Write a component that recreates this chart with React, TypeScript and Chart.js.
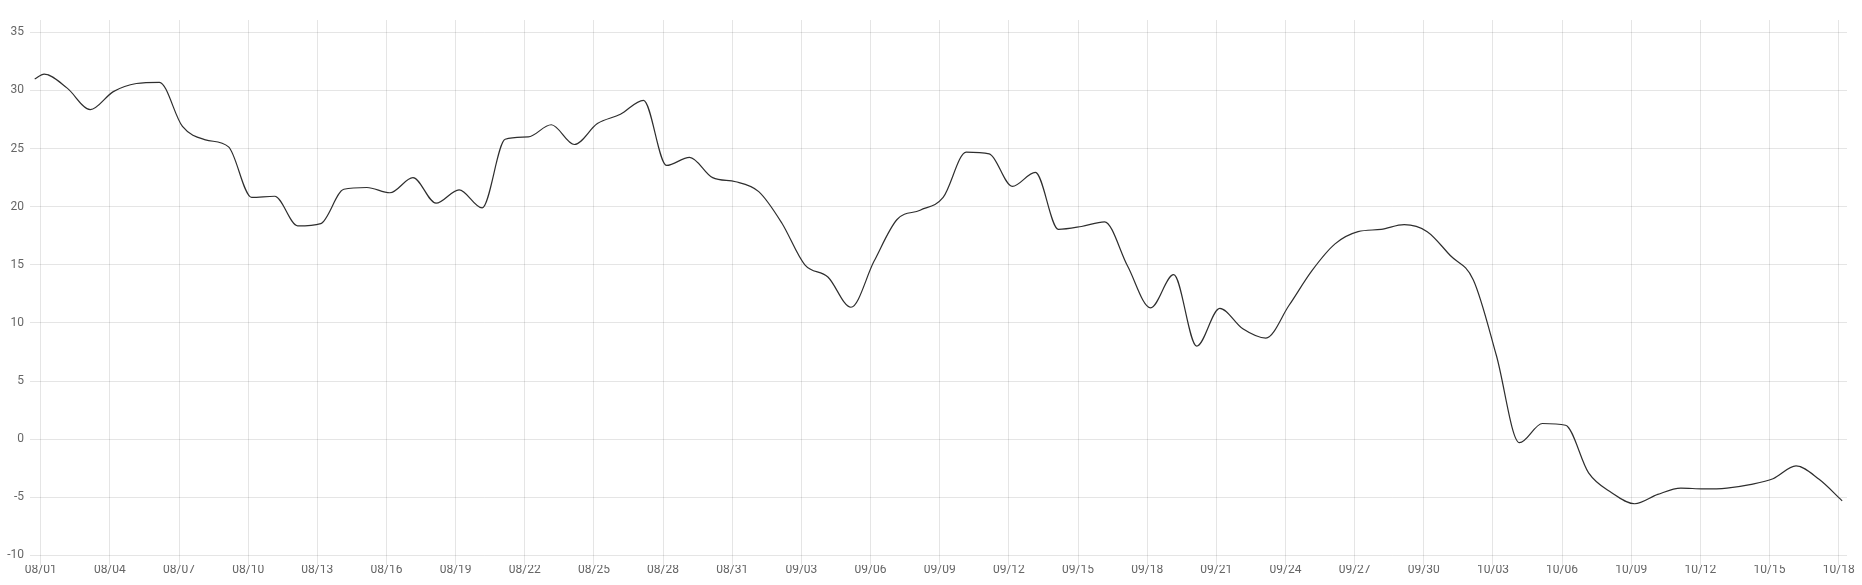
import React, { useEffect, useRef } from "react";
import { Chart, registerables } from "chart.js";

Chart.register(...registerables);

// Day offsets from 08/01 (fractional = time of day of each reading)
const pointDays = [
  -0.26, 0.15, 1.15, 2.15, 3.15, 4.15, 5.15, 6.15, 7.15, 8.15,
  9.15, 10.15, 11.15, 12.15, 13.15, 14.15, 15.15, 16.15, 17.15, 18.15,
  19.15, 20.15, 21.15, 22.15, 23.15, 24.15, 25.15, 26.15, 27.15, 28.15,
  29.15, 30.15, 31.15, 32.15, 33.15, 34.15, 35.15, 36.15, 37.15, 38.15,
  39.15, 40.15, 41.15, 42.15, 43.15, 44.15, 45.15, 46.15, 47.15, 48.15,
  49.15, 50.15, 51.15, 52.15, 53.15, 54.15, 55.15, 56.15, 57.15, 58.15,
  59.15, 60.15, 61.15, 62.15, 63.15, 64.15, 65.15, 66.15, 67.15, 68.15,
  69.15, 70.15, 71.15, 72.15, 73.15, 74.15, 75.15, 76.15, 77.15, 78.15,
];

const values = [
  30.98, 31.4, 30.2, 28.35, 29.9, 30.6, 30.7, 26.9, 25.75, 25.15,
  20.8, 20.9, 18.35, 18.55, 21.5, 21.65, 21.2, 22.5, 20.3, 21.45,
  19.9, 25.8, 26.0, 27.05, 25.35, 27.15, 27.95, 29.15, 23.55, 24.25,
  22.5, 22.15, 21.3, 18.6, 15.0, 13.95, 11.35, 15.3, 18.9, 19.7,
  20.8, 24.7, 24.55, 21.75, 22.95, 18.05, 18.3, 18.7, 14.9, 11.3,
  14.15, 8.0, 11.25, 9.5, 8.7, 11.5, 14.5, 16.8, 17.85, 18.05,
  18.45, 17.85, 15.8, 13.7, 7.2, -0.3, 1.35, 1.2, -2.9, -4.6,
  -5.55, -4.75, -4.2, -4.28, -4.2, -3.9, -3.4, -2.3, -3.45, -5.3,
];

const tickDays = [0, 3, 6, 9, 12, 15, 18, 21, 24, 27, 30, 33, 36, 39, 42, 45, 48, 51, 54, 57, 60, 63, 66, 69, 72, 75, 78];
const tickLabels = [
  "08/01", "08/04", "08/07", "08/10", "08/13", "08/16", "08/19", "08/22", "08/25",
  "08/28", "08/31", "09/03", "09/06", "09/09", "09/12", "09/15", "09/18", "09/21",
  "09/24", "09/27", "09/30", "10/03", "10/06", "10/09", "10/12", "10/15", "10/18",
];
const yTickValues = [-10, -5, 0, 5, 10, 15, 20, 25, 30, 35];

export default function App() {
  const ref = useRef<HTMLCanvasElement | null>(null);

  useEffect(() => {
    if (!ref.current) return;
    const font = { family: "Roboto, 'DejaVu Sans', sans-serif", size: 12 };
    const chart = new Chart(ref.current, {
      type: "line",
      data: {
        datasets: [
          {
            data: pointDays.map((d, i) => ({ x: d, y: values[i] })),
            borderColor: "#2e2e2e",
            borderWidth: 1.2,
            pointRadius: 0,
            fill: false,
            cubicInterpolationMode: "monotone",
          },
        ],
      },
      options: {
        animation: false,
        responsive: false,
        layout: { padding: { top: 20, right: 15, left: 0, bottom: 0 } },
        plugins: { legend: { display: false }, tooltip: { enabled: false } },
        scales: {
          x: {
            type: "linear",
            min: -0.464,
            max: 78.36,
            afterBuildTicks: (axis: any) => {
              axis.ticks = tickDays.map((v) => ({ value: v }));
            },
            afterFit: (axis: any) => {
              axis.height = 20;
            },
            grid: { color: "rgba(0,0,0,0.1)", drawTicks: false },
            border: { display: false },
            ticks: {
              autoSkip: false,
              maxRotation: 0,
              padding: -2,
              color: "#666",
              font,
              callback: (_v: any, i: number) => tickLabels[i],
            },
          },
          y: {
            type: "linear",
            min: -10.82,
            max: 36.06,
            afterBuildTicks: (axis: any) => {
              axis.ticks = yTickValues.map((v) => ({ value: v }));
            },
            afterFit: (axis: any) => {
              axis.width = 30;
            },
            grid: { color: "rgba(0,0,0,0.1)", drawTicks: false },
            border: { display: false },
            ticks: {
              padding: 6,
              color: "#666",
              font,
            },
          },
        },
      },
    });
    return () => chart.destroy();
  }, []);

  return (
    <div style={{ position: "fixed", left: 0, top: 0, width: 1862, height: 585, background: "#fff" }}>
      <canvas ref={ref} width={1862} height={585} style={{ display: "block" }} />
    </div>
  );
}
